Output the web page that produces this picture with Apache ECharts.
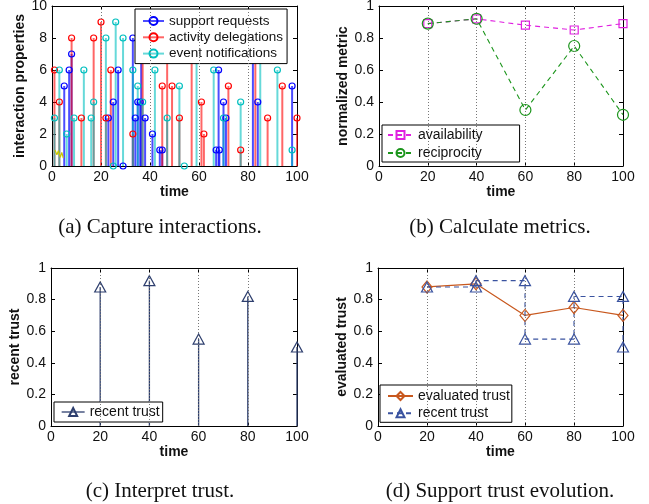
<!DOCTYPE html>
<html><head><meta charset="utf-8">
<script src="https://cdn.jsdelivr.net/npm/echarts@6/dist/echarts.min.js"></script>
<style>html,body{margin:0;padding:0;background:#fff}#c{width:649px;height:504px}</style>
</head><body><div id="c"></div>
<script>
// ---------------- data ----------------
const xTicks = [0, 20, 40, 60, 80, 100];
// (a) Capture interactions: stems [time, value]
const supportRequests = [[5,5],[7,6],[8,7],[23,3],[25,4],[27,6],[29,0],[33,8],[34,3],[35,4],[36,4],[36.4,9],[38,3],[41,2],[44,1],[45,1],[67,1],[68,6],[68.3,1],[70,4],[71,3],[82,9],[84,4],[98,5]];
const activityDelegations = [[1,6],[3,4],[8,8],[12,3],[17,8],[20,9],[22,3],[24,6],[33,2],[37,8],[45,5],[47,9],[49,5],[52,3],[57,9],[61,4],[62,2],[72,5],[77,1],[83,8],[88,3],[94,5],[100,3]];
const eventNotifications = [[1,3],[3,6],[6,2],[9,3],[13,6],[16,3],[17,4],[22,8],[25,0],[26,9],[29,8],[33,6],[35,5],[37,4],[42,6],[47,3],[52,5],[54,0],[59,8],[66,6],[70,3],[77,4],[85,8],[92,6],[98,1]];
const yellowTrace = [[1.2,1.0],[2.0,0.7],[2.6,0.95],[3.4,0.55],[4.0,0.85],[4.6,0.5]];
// (b)-(d)
const times = [20, 40, 60, 80, 100];
const availability = [0.89, 0.92, 0.88, 0.85, 0.89];
const reciprocity = [0.89, 0.92, 0.35, 0.75, 0.32];
const recentTrust = [0.88, 0.92, 0.55, 0.82, 0.50];
const evaluatedTrust = [0.88, 0.90, 0.70, 0.75, 0.70];
const captions = ['(a) Capture interactions.', '(b) Calculate metrics.', '(c) Interpret trust.', '(d) Support trust evolution.'];

// ---------------- helpers ----------------
const SANS = '"Liberation Sans", Arial, Helvetica, sans-serif';
const SERIF = '"Liberation Serif", "Times New Roman", serif';
const pairs = (xs, ys) => xs.map((x, i) => [x, ys[i]]);
const stairs = (xs, ys) => {
  const out = [[xs[0], ys[0]]];
  for (let i = 1; i < xs.length; i++) { out.push([xs[i], ys[i - 1]]); out.push([xs[i], ys[i]]); }
  return out;
};

const grids = [
  {left: 52, top: 6, width: 245, height: 160},
  {left: 379, top: 6, width: 244, height: 160},
  {left: 51, top: 268, width: 246, height: 158},
  {left: 378, top: 268, width: 245, height: 158}
];
const xAxis = [], yAxis = [];
function makeAxes(gi, yMax, yInt, yName, yNameGap, xNameGap) {
  const line = {show: true, onZero: false, lineStyle: {color: '#000', width: 1}};
  const tick = {show: true, inside: true, length: 4, lineStyle: {color: '#000', width: 1}};
  const lab = {fontFamily: SANS, fontSize: 14, color: '#111'};
  const nameStyle = {fontFamily: SANS, fontSize: 14, fontWeight: 'bold', color: '#111'};
  xAxis.push({gridIndex: gi, type: 'value', min: 0, max: 100, interval: 20, position: 'bottom',
    name: 'time', nameLocation: 'middle', nameGap: xNameGap, nameTextStyle: nameStyle,
    axisLine: line, axisTick: tick, axisLabel: Object.assign({margin: 4}, lab), splitLine: {show: false}});
  xAxis.push({gridIndex: gi, type: 'value', min: 0, max: 100, interval: 20, position: 'top',
    axisLine: line, axisTick: tick, axisLabel: {show: false}, splitLine: {show: false}});
  yAxis.push({gridIndex: gi, type: 'value', min: 0, max: yMax, interval: yInt, position: 'left',
    name: yName, nameLocation: 'middle', nameGap: yNameGap, nameTextStyle: nameStyle,
    axisLine: line, axisTick: tick, axisLabel: Object.assign({margin: 5}, lab), splitLine: {show: false}});
  yAxis.push({gridIndex: gi, type: 'value', min: 0, max: yMax, interval: yInt, position: 'right',
    axisLine: line, axisTick: tick, axisLabel: {show: false}, splitLine: {show: false}});
}
makeAxes(0, 10, 2, 'interaction properties', 22, 16);
makeAxes(1, 1, 0.2, 'normalized metric', 22, 16);
makeAxes(2, 1, 0.2, 'recent trust', 26, 18);
makeAxes(3, 1, 0.2, 'evaluated trust', 23, 18);

const series = [];
// dotted vertical guide lines at the inner ticks
for (let g = 0; g < 4; g++) {
  series.push({type: 'line', xAxisIndex: 2 * g, yAxisIndex: 2 * g, data: [], silent: true, z: 1,
    markLine: {silent: true, symbol: 'none', label: {show: false}, animation: false,
      lineStyle: {type: [1, 2], color: '#777', width: 1},
      emphasis: {disabled: true},
      data: xTicks.slice(1, -1).map(v => ({xAxis: v}))}});
}
function stems(data, color, width, opacity, g) {
  return {type: 'custom', xAxisIndex: 2 * g, yAxisIndex: 2 * g, data, silent: true, z: 2,
    encode: {x: 0, y: 1},
    renderItem: (params, api) => {
      const x = api.value(0), y = api.value(1);
      const a = api.coord([x, 0]), b = api.coord([x, y]);
      return {type: 'line', shape: {x1: a[0], y1: a[1], x2: b[0], y2: b[1]},
        style: {stroke: color, lineWidth: width, opacity: opacity}};
    }};
}
function markers(name, data, color, symbol, size, g, lineStyle) {
  return {type: 'line', name, xAxisIndex: 2 * g, yAxisIndex: 2 * g, data, z: 3,
    symbol, symbolSize: size, showSymbol: true, showAllSymbol: true,
    lineStyle: Object.assign({color: color, width: 1.2}, lineStyle || {}),
    itemStyle: {color: 'rgba(255,255,255,0)', borderColor: color, borderWidth: 1.2},
    emphasis: {disabled: true}};
}
const BLUE = '#0000ff', RED = '#ff0000', CYAN = '#00bfbf';
// (a)
series.push(stems(supportRequests, BLUE, 2, 0.7, 0));
series.push(stems(activityDelegations, RED, 2, 0.6, 0));
series.push(stems(eventNotifications, CYAN, 2, 0.6, 0));
series.push({type: 'line', xAxisIndex: 0, yAxisIndex: 0, data: yellowTrace, symbol: 'none', silent: true,
  lineStyle: {color: '#c8c800', width: 1.2}, z: 3});
series.push(markers('support requests', supportRequests, BLUE, 'circle', 6, 0, {opacity: 0}));
series.push(markers('activity delegations', activityDelegations, RED, 'circle', 6, 0, {opacity: 0}));
series.push(markers('event notifications', eventNotifications, CYAN, 'circle', 6, 0, {opacity: 0}));
// (b)
series.push(markers('availability', pairs(times, availability), '#e020e0', 'rect', 8, 1, {type: [5, 4], width: 1.1}));
series.push(markers('reciprocity', pairs(times, reciprocity), '#1b951b', 'circle', 11, 1, {type: [5, 4], width: 1.1}));
// (c)
const NAVY = '#2e3f6e';
series.push(stems(pairs(times, recentTrust), NAVY, 1.3, 1, 2));
series.push(markers('recent trust', pairs(times, recentTrust), NAVY, 'triangle', [11, 10], 2, {opacity: 0}));
// (d)
series.push(markers('evaluated trust', pairs(times, evaluatedTrust), '#c8581e', 'diamond', [10, 12], 3, {width: 1.2}));
series.push(markers('recent trust ', stairs(times, recentTrust), '#3a53a0', 'triangle', [11, 10], 3, {type: [5, 4], width: 1.1}));

const legendBase = {orient: 'vertical', backgroundColor: '#fff', borderColor: '#000', borderWidth: 1,
  borderRadius: 0, selectedMode: false, itemHeight: 10,
  textStyle: {fontFamily: SANS, fontSize: 14, color: '#111'}};
const legend = [
  Object.assign({}, legendBase, {left: 135, top: 9, padding: [5, 4, 3, 7], itemGap: 2.3, itemWidth: 21,
    textStyle: {fontFamily: SANS, fontSize: 13.5, color: '#111'},
    data: [
      {name: 'support requests', lineStyle: {opacity: 0.7, width: 2, color: BLUE}},
      {name: 'activity delegations', lineStyle: {opacity: 0.6, width: 2, color: RED}},
      {name: 'event notifications', lineStyle: {opacity: 0.6, width: 2, color: CYAN}}]}),
  Object.assign({}, legendBase, {left: 382, top: 125, padding: [3, 37, 2, 5], itemGap: 4, itemWidth: 25,
    data: ['availability', 'reciprocity']}),
  Object.assign({}, legendBase, {left: 54, top: 402, padding: [3, 3, 3, 7], itemGap: 4, itemWidth: 23,
    data: [{name: 'recent trust', lineStyle: {opacity: 1, width: 1.3, color: NAVY}}]}),
  Object.assign({}, legendBase, {left: 380, top: 385, padding: [4, 2, 2, 7], itemGap: 3.3, itemWidth: 25,
    formatter: n => n.trim(),
    data: ['evaluated trust', 'recent trust ']})
];

const capPos = [[160, 227], [500, 227], [160, 491], [500, 491]];
const graphic = captions.map((t, i) => ({type: 'text', x: capPos[i][0], y: capPos[i][1], silent: true,
  style: {text: t, font: '21px ' + SERIF, fill: '#111', textAlign: 'center', textVerticalAlign: 'middle'}}));

const chart = echarts.init(document.getElementById('c'), null, {renderer: 'canvas'});
chart.setOption({
  animation: false,
  backgroundColor: '#fff',
  grid: grids.map(g => Object.assign({outerBoundsMode: 'none', containLabel: false}, g)),
  xAxis, yAxis, series, legend, graphic
});
</script></body></html>
